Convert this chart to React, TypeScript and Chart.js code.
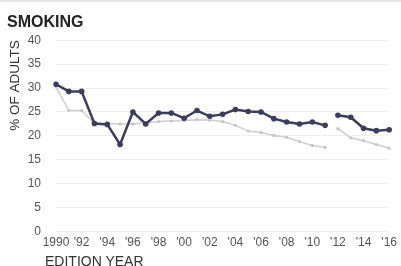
import React, { useEffect, useRef } from "react";
import { Chart, registerables } from "chart.js";

Chart.register(...registerables);

const years = [
  1990, 1991, 1992, 1993, 1994, 1995, 1996, 1997, 1998, 1999, 2000, 2001, 2002,
  2003, 2004, 2005, 2006, 2007, 2008, 2009, 2010, 2011, 2012, 2013, 2014, 2015, 2016,
];

const darkSeries = [
  30.8, 29.3, 29.3, 22.6, 22.4, 18.2, 25.0, 22.5, 24.8, 24.8, 23.7, 25.3, 24.1,
  24.5, 25.5, 25.1, 25.0, 23.6, 22.9, 22.5, 22.9, 22.2, 24.3, 23.9, 21.6, 21.1, 21.3,
];

const greySeries = [
  30.2, 25.3, 25.3, 22.6, 22.6, 22.5, 22.5, 22.7, 23.0, 23.1, 23.2, 23.4, 23.3,
  23.0, 22.2, 21.0, 20.7, 20.1, 19.7, 18.8, 18.0, 17.6, 21.5, 19.6, 19.0, 18.2, 17.4,
];

const yTicks = [0, 5, 10, 15, 20, 25, 30, 35, 40];

const breakAfterYear = 2011;

const titleText = "SMOKING";
const yTitleText = "% OF ADULTS";
const xTitleText = "EDITION YEAR";

const tickFamily = "'Liberation Sans', Arial, sans-serif";

export default function App() {
  const canvasRef = useRef<HTMLCanvasElement | null>(null);

  useEffect(() => {
    if (!canvasRef.current) return;
    const breakIdx = years.indexOf(breakAfterYear);
    const seg = (color: string) => ({
      borderColor: (ctx: any) => (ctx.p0DataIndex === breakIdx ? "rgba(0,0,0,0)" : color),
    });
    const chart = new Chart(canvasRef.current, {
      type: "line",
      data: {
        labels: years.map(String),
        datasets: [
          {
            label: "Dark",
            data: darkSeries,
            borderColor: "#3b3d5e",
            backgroundColor: "#3b3d5e",
            borderWidth: 2.5,
            pointRadius: 2.8,
            pointHoverRadius: 2.8,
            pointBorderWidth: 0,
            tension: 0,
            segment: seg("#3b3d5e"),
            order: 1,
          },
          {
            label: "Grey",
            data: greySeries,
            borderColor: "#cdcdd2",
            backgroundColor: "#c4c4ca",
            borderWidth: 1.5,
            pointRadius: 1.6,
            pointHoverRadius: 1.6,
            pointBorderWidth: 0,
            tension: 0,
            segment: seg("#cdcdd2"),
            order: 2,
          },
        ],
      },
      options: {
        animation: false,
        responsive: true,
        maintainAspectRatio: false,
        layout: { padding: { left: 7, right: 4, top: 13, bottom: 12 } },
        plugins: {
          legend: { display: false },
          tooltip: { enabled: false },
          title: {
            display: true,
            text: titleText,
            align: "start",
            color: "#222222",
            font: { family: "'Liberation Sans', Arial, sans-serif", size: 16, weight: "bold" },
            padding: { top: 0, bottom: 8 },
          },
        },
        scales: {
          x: {
            type: "category",
            offset: false,
            grid: { display: false, drawTicks: false },
            border: { display: false },
            ticks: {
              autoSkip: false,
              maxRotation: 0,
              minRotation: 0,
              padding: 4,
              color: "#555555",
              font: { family: tickFamily, size: 12 },
              callback: (_v: any, i: number) => {
                const y = years[i];
                if (y % 2 !== 0) return "";
                return i === 0 ? String(y) : "'" + String(y).slice(2);
              },
            },
          },
          y: {
            min: 0,
            max: 40,
            afterBuildTicks: (scale: any) => {
              scale.ticks = yTicks.map((v) => ({ value: v }));
            },
            afterFit: (scale: any) => {
              scale.width = 49;
            },
            grid: { color: "#f0f0f0", drawTicks: false, lineWidth: 1 },
            border: { display: false },
            ticks: {
              padding: 15,
              color: "#555555",
              font: { family: tickFamily, size: 12 },
            },
            title: {
              display: true,
              text: yTitleText,
              align: "end",
              color: "#333333",
              font: { family: "'Liberation Sans', Arial, sans-serif", size: 13.5 },
              padding: { top: 0, bottom: 0 },
            },
          },
        },
      },
    });
    return () => chart.destroy();
  }, []);

  return (
    <div style={{ position: "absolute", left: 0, top: 0, width: 401, height: 266, background: "#fff", overflow: "hidden" }}>
      <div style={{ position: "absolute", left: 0, top: 0, width: 401, height: 2, background: "#e6e6e6" }} />
      <canvas ref={canvasRef} />
      <div
        style={{
          position: "absolute",
          left: 45,
          top: 254,
          fontFamily: "'Liberation Sans', Arial, sans-serif",
          fontSize: 14,
          lineHeight: "14px",
          color: "#333333",
          whiteSpace: "nowrap",
        }}
      >
        {xTitleText}
      </div>
    </div>
  );
}
